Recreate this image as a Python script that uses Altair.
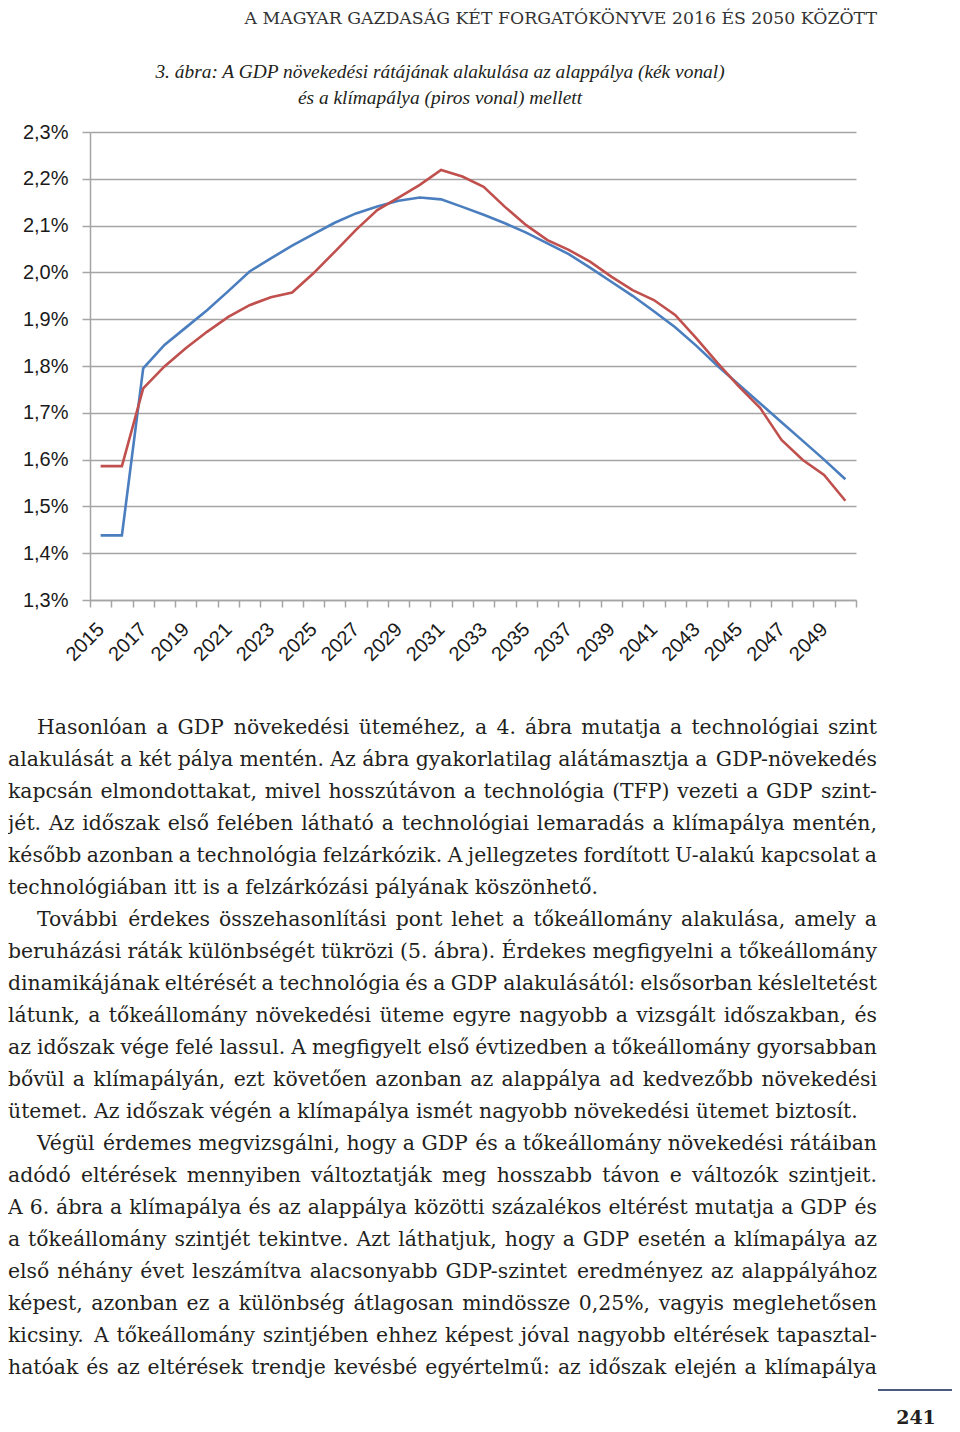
import altair as alt
import pandas as pd

# ---------------- data ----------------
years = list(range(2015, 2051))

alappalya = [1.438, 1.438, 1.795, 1.845, 1.882, 1.919, 1.960, 2.002, 2.030, 2.057,
             2.082, 2.106, 2.126, 2.141, 2.153, 2.160, 2.156, 2.140, 2.123, 2.105,
             2.085, 2.062, 2.039, 2.010, 1.980, 1.950, 1.917, 1.883, 1.843, 1.800,
             1.760, 1.720, 1.680, 1.640, 1.600, 1.558]

klimapalya = [1.586, 1.586, 1.752, 1.799, 1.838, 1.873, 1.905, 1.930, 1.947, 1.957,
              1.998, 2.044, 2.091, 2.133, 2.160, 2.187, 2.219, 2.205, 2.183, 2.140,
              2.101, 2.069, 2.048, 2.023, 1.991, 1.962, 1.941, 1.909, 1.859, 1.806,
              1.756, 1.710, 1.642, 1.599, 1.567, 1.512]

series_names = ["alappálya (kék vonal)", "klímapálya (piros vonal)"]
series_colors = ["#4a7ebf", "#c0504d"]

y_ticks = [1.3, 1.4, 1.5, 1.6, 1.7, 1.8, 1.9, 2.0, 2.1, 2.2, 2.3]

header = "A MAGYAR GAZDASÁG KÉT FORGATÓKÖNYVE 2016 ÉS 2050 KÖZÖTT"
caption = [
    "3. ábra: A GDP növekedési rátájának alakulása az alappálya (kék vonal)",
    "és a klímapálya (piros vonal) mellett",
]
body = [
    "Hasonlóan a GDP növekedési üteméhez, a 4. ábra mutatja a technológiai szint",
    "alakulását a két pálya mentén. Az ábra gyakorlatilag alátámasztja a GDP-növekedés",
    "kapcsán elmondottakat, mivel hosszútávon a technológia (TFP) vezeti a GDP szint-",
    "jét. Az időszak első felében látható a technológiai lemaradás a klímapálya mentén,",
    "később azonban a technológia felzárkózik. A jellegzetes fordított U-alakú kapcsolat a",
    "technológiában itt is a felzárkózási pályának köszönhető.",
    "További érdekes összehasonlítási pont lehet a tőkeállomány alakulása, amely a",
    "beruházási ráták különbségét tükrözi (5. ábra). Érdekes megfigyelni a tőkeállomány",
    "dinamikájának eltérését a technológia és a GDP alakulásától: elsősorban késleltetést",
    "látunk, a tőkeállomány növekedési üteme egyre nagyobb a vizsgált időszakban, és",
    "az időszak vége felé lassul. A megfigyelt első évtizedben a tőkeállomány gyorsabban",
    "bővül a klímapályán, ezt követően azonban az alappálya ad kedvezőbb növekedési",
    "ütemet. Az időszak végén a klímapálya ismét nagyobb növekedési ütemet biztosít.",
    "Végül érdemes megvizsgálni, hogy a GDP és a tőkeállomány növekedési rátáiban",
    "adódó eltérések mennyiben változtatják meg hosszabb távon e változók szintjeit.",
    "A 6. ábra a klímapálya és az alappálya közötti százalékos eltérést mutatja a GDP és",
    "a tőkeállomány szintjét tekintve. Azt láthatjuk, hogy a GDP esetén a klímapálya az",
    "első néhány évet leszámítva alacsonyabb GDP-szintet eredményez az alappályához",
    "képest, azonban ez a különbség átlagosan mindössze 0,25%, vagyis meglehetősen",
    "kicsiny. A tőkeállomány szintjében ehhez képest jóval nagyobb eltérések tapasztal-",
    "hatóak és az eltérések trendje kevésbé egyértelmű: az időszak elején a klímapálya",
]
paragraph_starts = [0, 6, 13]
paragraph_ends = [5, 12]
page_number = "241"

# ---------------- layout (plot-area relative pixels) ----------------
PLOT_W, PLOT_H = 766, 468
PAD_L, PAD_T = 82, 124
OX, OY = PAD_L + 8, PAD_T + 8      # page position of plot origin

GRID = "#a5a5a5"
BODY_FONT = "DejaVu Serif"
BODY_SIZE = 20.4
TEXT_LEFT, TEXT_INDENT, TEXT_RIGHT = 8, 37, 877

# approximate advance widths (em) of DejaVu Serif, used to justify lines
_w = {" ": .318, "a": .596, "b": .640, "c": .560, "d": .640, "e": .592, "f": .371,
      "g": .640, "h": .644, "i": .320, "j": .311, "k": .606, "l": .320, "m": .948,
      "n": .644, "o": .602, "p": .640, "q": .640, "r": .478, "s": .513, "t": .402,
      "u": .644, "v": .565, "w": .856, "x": .564, "y": .565, "z": .527,
      "A": .722, "B": .735, "C": .730, "D": .830, "E": .729, "F": .693, "G": .812,
      "H": .873, "I": .431, "J": .421, "K": .764, "L": .686, "M": 1.024, "N": .875,
      "O": .820, "P": .673, "R": .753, "S": .685, "T": .667, "U": .843, "V": .722,
      "Z": .695, ".": .318, ",": .318, ":": .338, "-": .338, "(": .390, ")": .390,
      "%": .950}
for d in "0123456789":
    _w[d] = .636
_base = {"á": "a", "é": "e", "í": "i", "ó": "o", "ö": "o", "ő": "o", "ú": "u",
         "ü": "u", "ű": "u", "É": "E", "Á": "A"}


def text_width(s):
    return sum(_w.get(_base.get(c, c), .6) for c in s) * BODY_SIZE


words = []
for i, line in enumerate(body):
    x0 = TEXT_INDENT if i in paragraph_starts else TEXT_LEFT
    base_y = 734 + 32 * i - OY
    toks = line.split(" ")
    widths = [text_width(t) for t in toks]
    if i in paragraph_ends or len(toks) == 1:
        gap = text_width(" ")
    else:
        gap = (TEXT_RIGHT - x0 - sum(widths)) / (len(toks) - 1)
    x = x0
    for j, (t, w) in enumerate(zip(toks, widths)):
        last_just = (j == len(toks) - 1) and (i not in paragraph_ends)
        words.append({"text": t,
                      "px": (TEXT_RIGHT if last_just else x) - OX,
                      "py": base_y,
                      "anchor": "right" if last_just else "left"})
        x += w + gap
words_df = pd.DataFrame(words)

df = pd.DataFrame({
    "year": years * 2,
    "value": alappalya + klimapalya,
    "series": [series_names[0]] * len(years) + [series_names[1]] * len(years),
})

lines = alt.Chart(df).mark_line(strokeWidth=2.6).encode(
    x=alt.X(
        "year:O",
        bandPosition=0.5,
        scale=alt.Scale(type="band", paddingInner=0, paddingOuter=0),
        axis=alt.Axis(
            title=None, tickBand="extent", grid=False,
            labelExpr="datum.value % 2 == 1 ? datum.label : ''",
            labelAngle=-45, labelAlign="right", labelBaseline="middle",
            labelOverlap=False, labelPadding=19,
            labelFont="Liberation Sans", labelFontSize=20, labelColor="#1a1a1a",
            tickSize=7, tickColor=GRID, tickWidth=1.5,
            domainColor=GRID, domainWidth=1.5,
        ),
    ),
    y=alt.Y(
        "value:Q",
        scale=alt.Scale(domain=[1.3, 2.3], nice=False, zero=False),
        axis=alt.Axis(
            title=None, values=y_ticks,
            labelExpr="replace(format(datum.value, '.1f'), '.', ',') + '%'",
            labelFont="Liberation Sans", labelFontSize=20, labelColor="#1a1a1a",
            labelPadding=14,
            tickSize=8, tickColor=GRID, tickWidth=1.5,
            domainColor=GRID, domainWidth=1.5,
            grid=True, gridColor=GRID, gridWidth=1.5,
        ),
    ),
    color=alt.Color("series:N",
                    scale=alt.Scale(domain=series_names, range=series_colors),
                    legend=None),
)


def body_words(anchor):
    return alt.Chart(words_df).transform_filter(
        alt.datum.anchor == anchor
    ).mark_text(
        align=anchor, baseline="alphabetic", font=BODY_FONT, fontSize=BODY_SIZE,
        color="#231f20",
    ).encode(
        x=alt.X("px:Q", scale=None, axis=None),
        y=alt.Y("py:Q", scale=None, axis=None),
        text="text:N",
    )


cap_df = pd.DataFrame({"text": caption})
cap_df["px"] = [440 - OX] * len(caption)
cap_df["py"] = [78 - OY, 104 - OY]

caption_layer = alt.Chart(cap_df).mark_text(
    align="center", baseline="alphabetic", font="Liberation Serif",
    fontStyle="italic", fontSize=19.4, color="#231f20",
).encode(
    x=alt.X("px:Q", scale=None, axis=None),
    y=alt.Y("py:Q", scale=None, axis=None),
    text="text:N",
)

head_df = pd.DataFrame({"text": [header]})
header_layer = alt.Chart(head_df).mark_text(
    align="right", baseline="alphabetic", font="DejaVu Serif", fontSize=17.3,
    color="#333333",
).encode(
    x=alt.value(877 - OX), y=alt.value(24 - OY), text="text:N",
)

pn_df = pd.DataFrame({"text": [page_number]})
page_layer = alt.Chart(pn_df).mark_text(
    align="center", baseline="alphabetic", font="DejaVu Serif", fontSize=19,
    fontWeight="bold", color="#231f20",
).encode(
    x=alt.value(916 - OX), y=alt.value(1424 - OY), text="text:N",
)

rule_layer = alt.Chart(pn_df).mark_rule(color="#4a5a7c", strokeWidth=2).encode(
    x=alt.value(878 - OX), x2=alt.value(952 - OX), y=alt.value(1390 - OY),
)

TOTAL_W, TOTAL_H = 944, 1420

chart = alt.layer(
    lines, header_layer, caption_layer, body_words("left"), body_words("right"),
    rule_layer, page_layer,
).resolve_scale(
    x="independent", y="independent",
).properties(
    width=PLOT_W, height=PLOT_H,
    autosize=alt.AutoSizeParams(type="none"),
    padding={"left": PAD_L, "top": PAD_T,
             "right": TOTAL_W - PAD_L - PLOT_W,
             "bottom": TOTAL_H - PAD_T - PLOT_H},
    background="white",
).configure_view(stroke=None)

chart.save("out.html", embed_options={"renderer": "svg", "actions": False})
